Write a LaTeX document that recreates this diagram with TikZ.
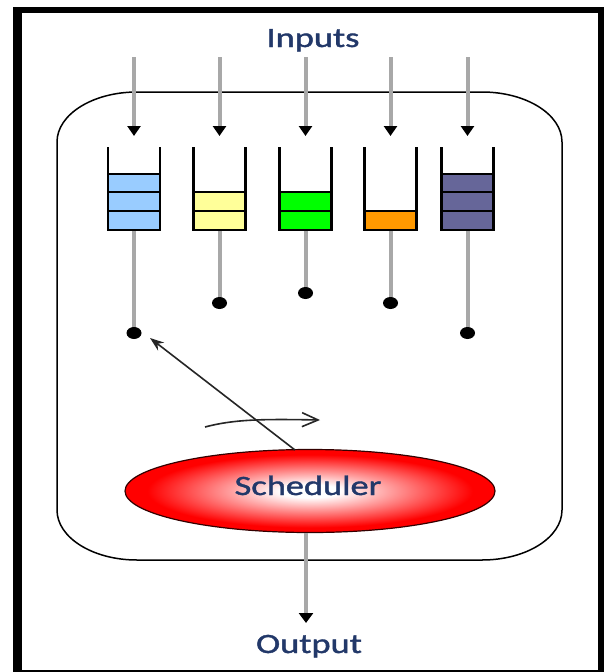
\documentclass[tikz,border=0pt]{standalone}
\usepackage{fontspec}
\setmainfont{Carlito}
\newfontfamily\lblfont[FakeBold=1.2]{Carlito}
\usetikzlibrary{arrows.meta,shapes.geometric}
\definecolor{qblue}{HTML}{99CCFF}
\definecolor{qyellow}{HTML}{FFFF99}
\definecolor{qgreen}{HTML}{00FF00}
\definecolor{qorange}{HTML}{FF9900}
\definecolor{qpurple}{HTML}{666699}
\definecolor{txtblue}{RGB}{34,56,105}
\definecolor{stemgray}{HTML}{A8A8A8}
\pgfdeclareradialshading{schedshade}{\pgfpoint{0bp}{0bp}}{color(0bp)=(white); color(4bp)=(white); color(22bp)=(red); color(50bp)=(red)}
\tikzset{
  lbl/.style={font=\lblfont\fontsize{28}{30}\selectfont, text=txtblue, xscale=1.3, inner sep=0, anchor=base},
  feed/.style={stemgray, line width=4pt, -{Triangle[length=10pt,width=13pt,black]}},
  stem/.style={stemgray, line width=4pt},
  wall/.style={black, line width=2.3pt, line cap=rect},
  sep/.style={black, line width=2pt},
  dot/.style={ellipse, fill=black, minimum width=15pt, minimum height=12pt, inner sep=0},
  thinarrow/.style={black!85, line width=1.6pt}
}
\begin{document}
\begin{tikzpicture}[x=1pt,y=-1pt]
\useasboundingbox (0,0) rectangle (603,672);
% frame
\fill[black] (13,7) rectangle (640,700);
\fill[white] (22,13) rectangle (598,670);
% rounded container
\draw[black, line width=1.5pt] (57,142) .. controls (57,114.4) and (92.8,92) .. (137,92) -- (482,92)
  .. controls (526.2,92) and (562,114.4) .. (562,142) -- (562,510)
  .. controls (562,537.6) and (526.2,560) .. (482,560) -- (137,560)
  .. controls (92.8,560) and (57,537.6) .. (57,510) -- cycle;
% labels
\node[lbl] (inputs) at (313,47) {Inputs};
\node[lbl] (output) at (309,653) {Output};
% coordinates
\foreach \i/\x in {1/134,2/219.5,3/305.5,4/390.5,5/467.5}{
  \coordinate (in\i) at (\x,57);
  \coordinate (tip\i) at (\x,136);
  \coordinate (q\i) at (\x,231);
}
\foreach \i in {1,...,5}{ \draw[feed] (in\i) -- (tip\i); }
% dots
\coordinate (d1) at (134,333);
\coordinate (d2) at (219.5,303);
\coordinate (d3) at (305.5,293);
\coordinate (d4) at (390.5,303);
\coordinate (d5) at (467.5,333);
\foreach \i in {1,...,5}{ \draw[stem] (q\i) -- (d\i); }
\foreach \i in {1,...,5}{ \node[dot] (dot\i) at (d\i) {}; }
% queues: cells
\fill[qblue] (108,174) rectangle (160,230);
\draw[sep] (108,174) -- (160,174) (108,192) -- (160,192) (108,211) -- (160,211);
\fill[qyellow] (193.5,192) rectangle (245.5,230);
\draw[sep] (193.5,192) -- (245.5,192) (193.5,211) -- (245.5,211);
\fill[qgreen] (279.5,192) rectangle (331.5,230);
\draw[sep] (279.5,192) -- (331.5,192) (279.5,211) -- (331.5,211);
\fill[qorange] (364.5,211) rectangle (416.5,230);
\draw[sep] (364.5,211) -- (416.5,211);
\fill[qpurple] (441.5,174) rectangle (493.5,230);
\draw[sep] (441.5,174) -- (493.5,174) (441.5,192) -- (493.5,192) (441.5,211) -- (493.5,211);
% queue walls
\foreach \l in {108,193.5,279.5,364.5,441.5}{
  \draw[wall] (\l,148) -- (\l,230) -- (\l+52,230) -- (\l+52,148);
}
% scheduler
\node[ellipse, draw=black!80!red, line width=1.2pt, minimum width=370pt, minimum height=83pt, shading=schedshade, inner sep=0] (sch) at (310,491) {};
\node[lbl] (schtxt) at (308,495) {Scheduler};
% output arrow
\coordinate (outtip) at (306,623);
\draw[stemgray, line width=4pt, -{Triangle[length=10pt,width=14pt,black]}] (sch.south -| outtip) -- (outtip);
% selection arrow
\coordinate (selstart) at (295,450);
\coordinate (seltip) at (150,338);
\draw[thinarrow, -{Stealth[length=14pt,width=10pt]}] (selstart) -- (seltip);
% rotation arrow
\coordinate (rotA) at (205,427);
\coordinate (rotB) at (320,420);
\draw[thinarrow, -{Straight Barb[length=16pt,width=14pt]}] (rotA) .. controls (235,419) and (265,419) .. (rotB);
\end{tikzpicture}
\end{document}
